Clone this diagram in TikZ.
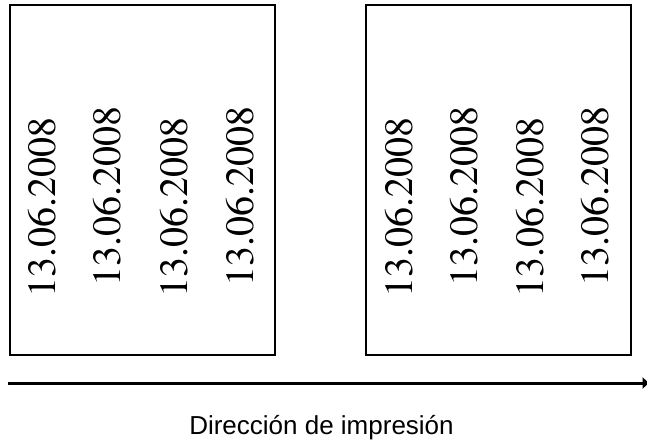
\documentclass[tikz,border=0pt]{standalone}
\usepackage{fontspec}
\newfontfamily\arialfont{Liberation Sans}
\newcommand\ptmfont{\fontencoding{T1}\fontfamily{ptm}\fontseries{m}\fontshape{n}}
\usetikzlibrary{arrows.meta}
\tikzset{
  card/.style={draw=black, line width=1.7pt},
  datetext/.style={rotate=90, anchor=base west, inner sep=0pt, font=\ptmfont\fontsize{40}{40}\selectfont},
  dirarrow/.style={line width=3pt, -{Latex[length=7pt,width=13pt]}},
  caption/.style={anchor=base, inner sep=0pt, font=\arialfont\fontsize{26}{26}\selectfont}
}
\begin{document}
\begin{tikzpicture}[x=1pt,y=-1pt]
\useasboundingbox (0,0) rectangle (647,441);
\draw[card] (10,5) rectangle (275,355);
\draw[card] (366,5) rectangle (631,355);
\node[datetext] (l1) at (55,298) {13.06.2008};
\node[datetext] (l2) at (120,287) {13.06.2008};
\node[datetext] (l3) at (187,298) {13.06.2008};
\node[datetext] (l4) at (253,287) {13.06.2008};
\node[datetext] (r1) at (412,298) {13.06.2008};
\node[datetext] (r2) at (477,287) {13.06.2008};
\node[datetext] (r3) at (543,298) {13.06.2008};
\node[datetext] (r4) at (608,287) {13.06.2008};
\coordinate (as) at (8,383);
\coordinate (ae) at (649.5,383);
\draw[dirarrow] (as) -- (ae);
\node[caption] (cap) at (321.5,434) {Dirección de impresión};
\end{tikzpicture}
\end{document}
